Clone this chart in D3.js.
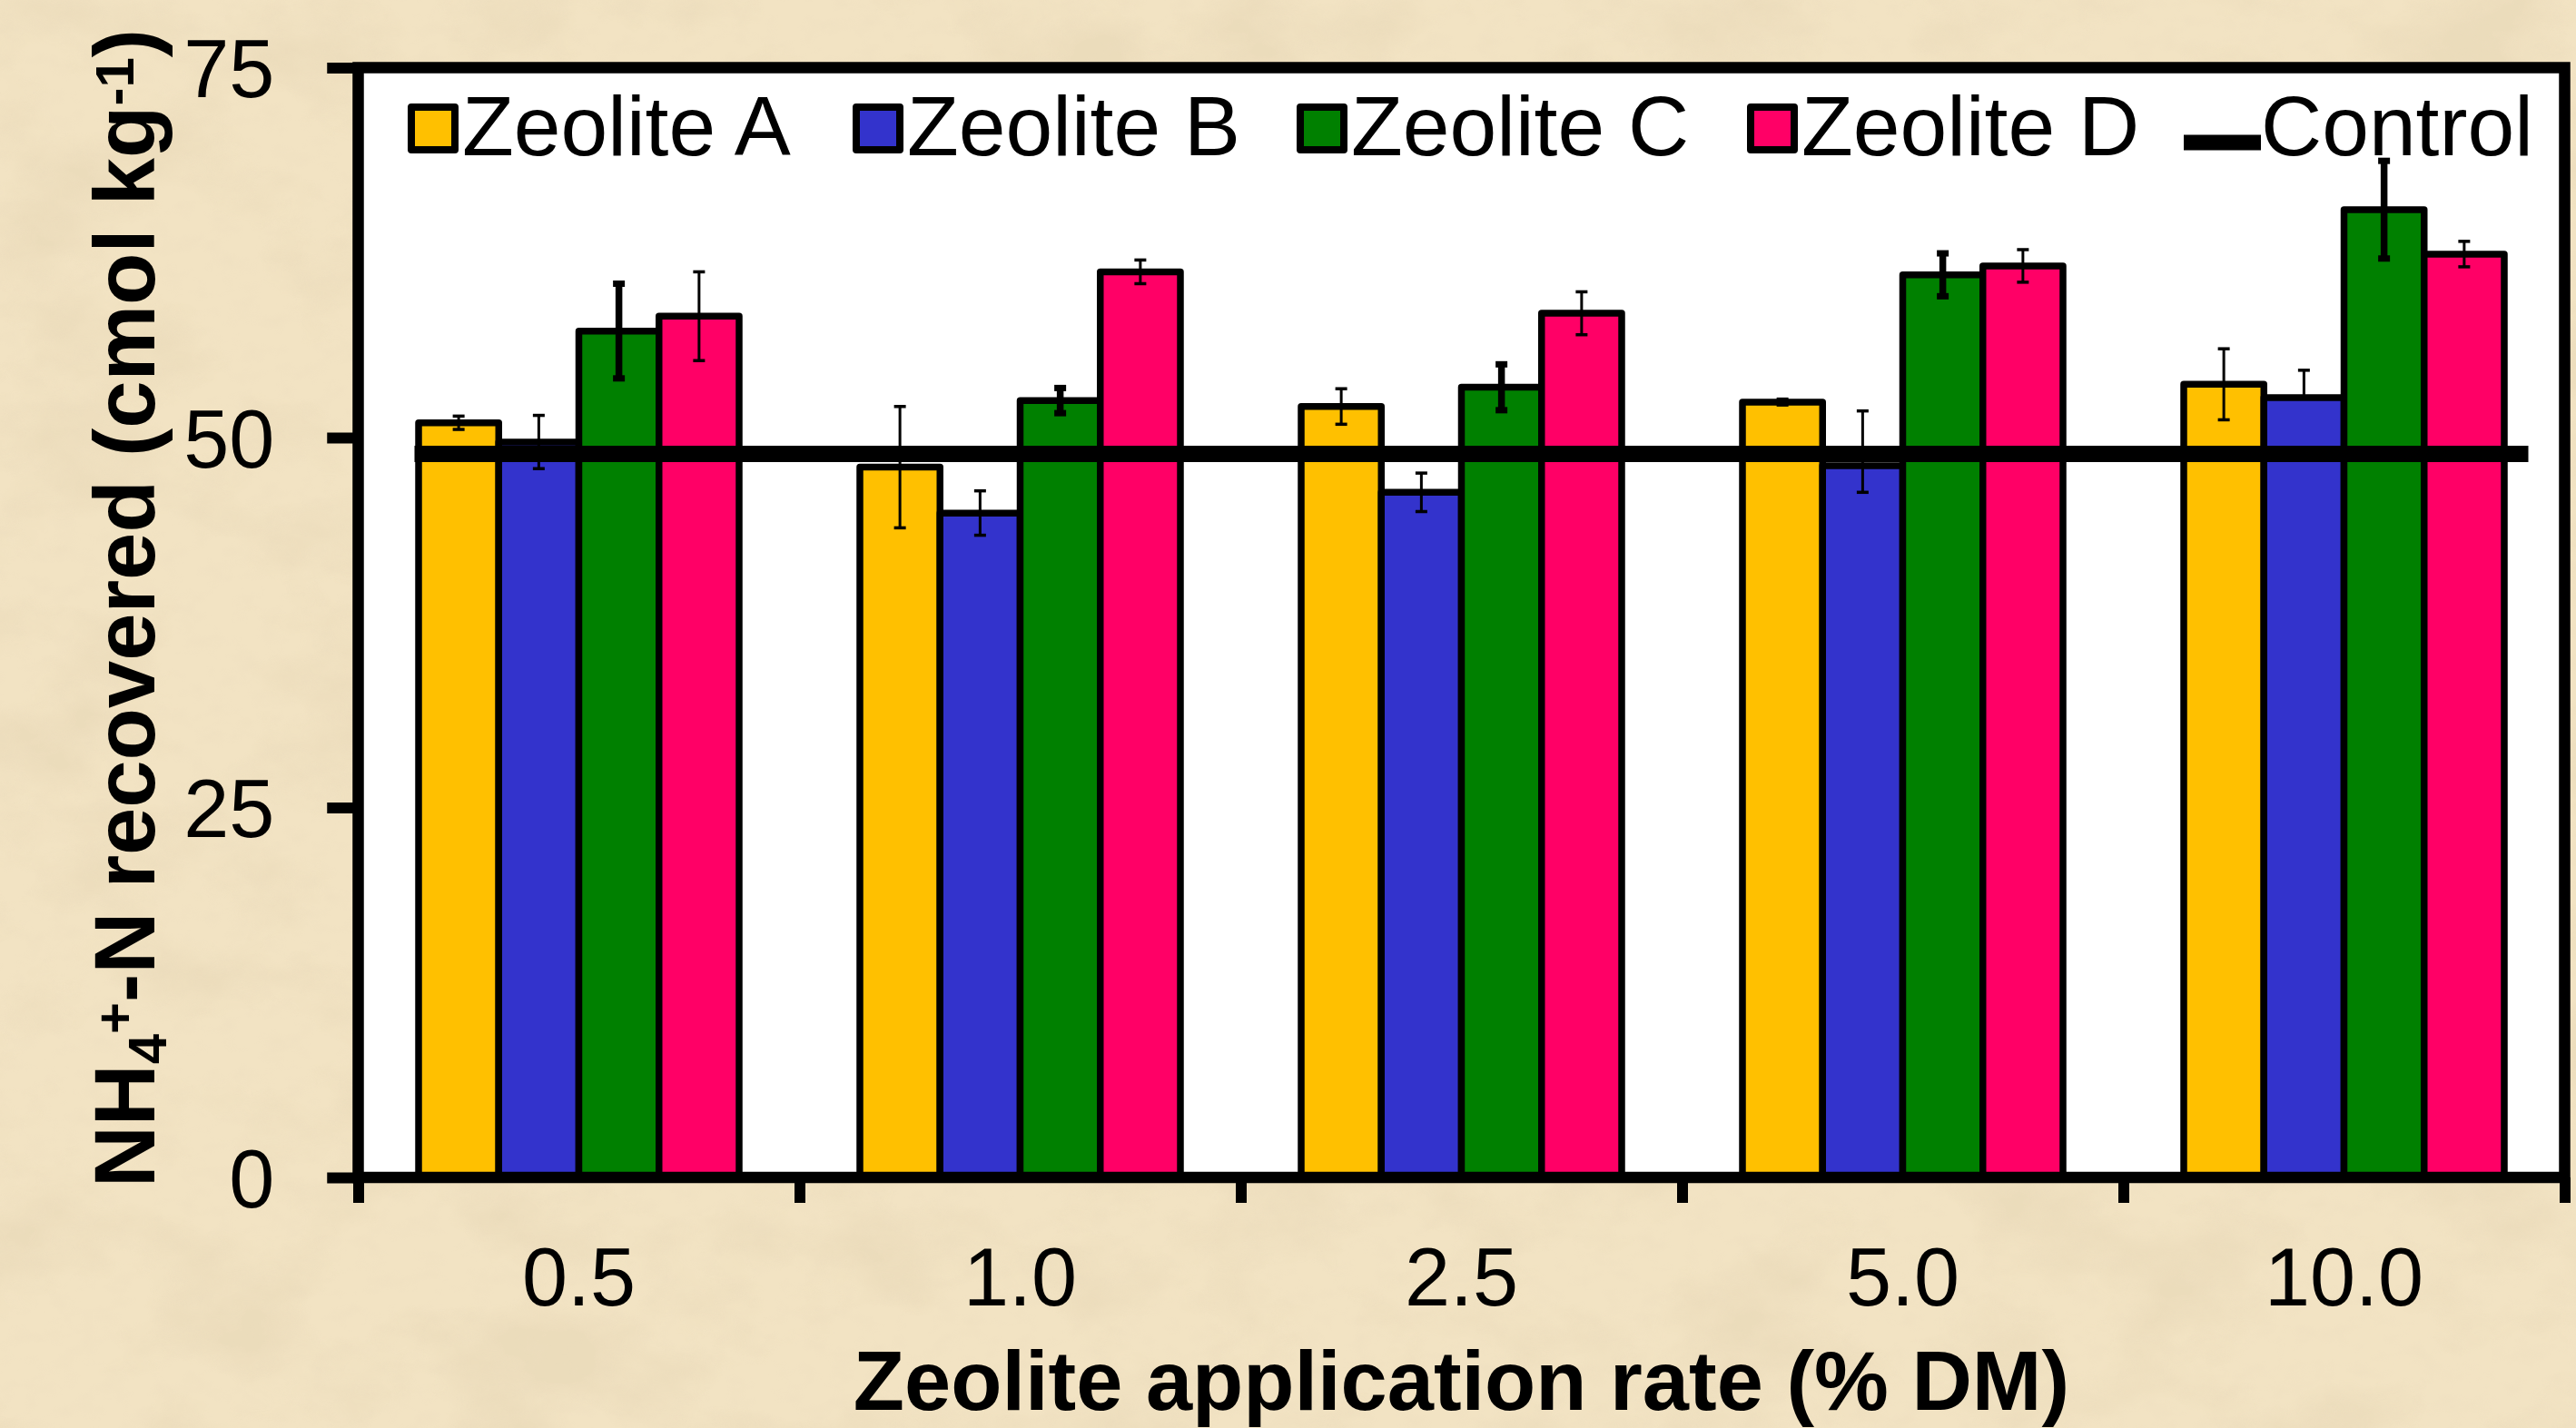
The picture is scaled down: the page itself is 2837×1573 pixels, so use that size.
<!DOCTYPE html>
<html>
<head>
<meta charset="utf-8">
<script src="https://cdn.jsdelivr.net/npm/d3@7"></script>
<style>
    html, body { margin: 0; padding: 0; background: #f0e0bd; }
    svg { display: block; }
    text { font-family: "Liberation Sans", Arial, Helvetica, sans-serif; fill: #000; }
</style>
</head>
<body>
<div id="chart"></div>
<script>
// data
const categories = ["0.5", "1.0", "2.5", "5.0", "10.0"];
const seriesNames = ["Zeolite A", "Zeolite B", "Zeolite C", "Zeolite D"];
const zeoliteA = [51.0, 48.0, 52.1, 52.4, 53.6];
const zeoliteB = [49.7, 44.9, 46.3, 48.1, 52.7];
const zeoliteC = [57.2, 52.5, 53.4, 61.0, 65.4];
const zeoliteD = [58.2, 61.2, 58.4, 61.6, 62.4];
const errUpA = [0.45, 4.1, 1.2, 0.2, 2.4];
const errDownA = [0.45, 4.1, 1.2, 0.2, 2.4];
const errUpB = [1.8, 1.5, 1.3, 3.7, 1.85];
const errDownB = [1.8, 1.5, 1.3, 1.8, 0];
const errUpC = [3.2, 0.85, 1.55, 1.45, 3.3];
const errDownC = [3.2, 0.85, 1.55, 1.45, 3.3];
const errUpD = [3.0, 0.8, 1.45, 1.1, 0.86];
const errDownD = [3.0, 0.8, 1.45, 1.1, 0.86];
const control = 48.9;
const yTicks = [0, 25, 50, 75];

const colors = ["#ffc000", "#3333cc", "#008000", "#ff0066"];
const seriesValues = [zeoliteA, zeoliteB, zeoliteC, zeoliteD];
const seriesErrUp = [errUpA, errUpB, errUpC, errUpD];
const seriesErrDown = [errDownA, errDownB, errDownC, errDownD];

const width = 2837;
const height = 1573;
const plot = { left: 394.5, right: 2824.5, top: 74.5, bottom: 1297 };
const axisWidth = 12.5;
const tickLength = 28;

const svg = d3.select("#chart")
    .append("svg")
    .attr("width", width)
    .attr("height", height);

// parchment background
const defs = svg.append("defs");
const paper = defs.append("filter")
    .attr("id", "paper")
    .attr("filterUnits", "userSpaceOnUse")
    .attr("x", 0).attr("y", 0)
    .attr("width", width).attr("height", height);

paper.append("feTurbulence")
    .attr("type", "fractalNoise")
    .attr("baseFrequency", "0.006 0.009")
    .attr("numOctaves", 5)
    .attr("seed", 7)
    .attr("result", "noise");

paper.append("feColorMatrix")
    .attr("in", "noise")
    .attr("type", "matrix")
    .attr("values", "0 0 0 0 0.80  0 0 0 0 0.68  0 0 0 0 0.47  3.2 0 0 0 -1.45");

const grain = defs.append("filter")
    .attr("id", "grain")
    .attr("filterUnits", "userSpaceOnUse")
    .attr("x", 0).attr("y", 0)
    .attr("width", width).attr("height", height);

grain.append("feTurbulence")
    .attr("type", "fractalNoise")
    .attr("baseFrequency", "0.035 0.05")
    .attr("numOctaves", 3)
    .attr("seed", 2)
    .attr("result", "noise");

grain.append("feColorMatrix")
    .attr("in", "noise")
    .attr("type", "matrix")
    .attr("values", "0 0 0 0 0.84  0 0 0 0 0.72  0 0 0 0 0.52  2.6 0 0 0 -1.2");

svg.append("rect")
    .attr("width", width).attr("height", height)
    .style("fill", "#f2e3c3");

svg.append("rect")
    .attr("width", width).attr("height", height)
    .style("fill", "#000")
    .style("opacity", 0.55)
    .attr("filter", "url(#paper)");

svg.append("rect")
    .attr("width", width).attr("height", height)
    .style("fill", "#000")
    .style("opacity", 0.3)
    .attr("filter", "url(#grain)");

// scales
const x0 = d3.scaleBand()
    .domain(categories)
    .range([plot.left, plot.right])
    .paddingInner(0)
    .paddingOuter(0);

const groupGap = 66.5;
const x1 = d3.scaleBand()
    .domain(seriesNames)
    .range([groupGap, x0.bandwidth() - groupGap]);

const y = d3.scaleLinear()
    .domain([0, 75])
    .range([plot.bottom, plot.top]);

// plot area
svg.append("rect")
    .attr("x", plot.left)
    .attr("y", plot.top)
    .attr("width", plot.right - plot.left)
    .attr("height", plot.bottom - plot.top)
    .style("fill", "#fff");

// bars
const groups = svg.append("g")
    .selectAll("g")
    .data(categories)
    .enter()
    .append("g")
    .attr("transform", d => "translate(" + x0(d) + ",0)");

groups.selectAll("rect")
    .data((d, i) => seriesNames.map((name, s) => ({ name: name, s: s, value: seriesValues[s][i] })))
    .enter()
    .append("rect")
    .attr("x", d => x1(d.name))
    .attr("y", d => y(d.value))
    .attr("width", x1.bandwidth())
    .attr("height", d => y(0) - y(d.value))
    .style("fill", d => colors[d.s])
    .style("stroke", "#000")
    .style("stroke-width", 7.5)
    .style("stroke-linejoin", "round");

// control line
svg.append("line")
    .attr("x1", plot.left + 62)
    .attr("x2", plot.right - 40)
    .attr("y1", y(control))
    .attr("y2", y(control))
    .style("stroke", "#000")
    .style("stroke-width", 18);

// error bars
const errorData = [];
categories.forEach((c, i) => {
    seriesNames.forEach((name, s) => {
        errorData.push({
            cx: x0(c) + x1(name) + x1.bandwidth() / 2,
            value: seriesValues[s][i],
            up: seriesErrUp[s][i],
            down: seriesErrDown[s][i],
            thick: s === 2
        });
    });
});

const errors = svg.append("g")
    .selectAll("g")
    .data(errorData)
    .enter()
    .append("g");

errors.append("line")
    .attr("x1", d => d.cx)
    .attr("x2", d => d.cx)
    .attr("y1", d => y(d.value + d.up))
    .attr("y2", d => y(d.value - d.down))
    .style("stroke", "#000")
    .style("stroke-width", d => d.thick ? 7.5 : 3);

errors.append("line")
    .attr("x1", d => d.cx - 6.5)
    .attr("x2", d => d.cx + 6.5)
    .attr("y1", d => y(d.value + d.up))
    .attr("y2", d => y(d.value + d.up))
    .style("stroke", "#000")
    .style("stroke-width", d => d.thick ? 7 : 3.5);

errors.filter(d => d.down > 0)
    .append("line")
    .attr("x1", d => d.cx - 6.5)
    .attr("x2", d => d.cx + 6.5)
    .attr("y1", d => y(d.value - d.down))
    .attr("y2", d => y(d.value - d.down))
    .style("stroke", "#000")
    .style("stroke-width", d => d.thick ? 7 : 3.5);

// frame
svg.append("rect")
    .attr("x", plot.left)
    .attr("y", plot.top)
    .attr("width", plot.right - plot.left)
    .attr("height", plot.bottom - plot.top)
    .style("fill", "none")
    .style("stroke", "#000")
    .style("stroke-width", axisWidth);

// y axis
const yAxis = svg.append("g")
    .attr("transform", "translate(" + plot.left + ",0)")
    .call(d3.axisLeft(y).tickValues(yTicks).tickSize(tickLength + axisWidth / 2).tickPadding(58));

yAxis.select(".domain").remove();
yAxis.selectAll(".tick line")
    .style("stroke", "#000")
    .style("stroke-width", 12);
yAxis.selectAll(".tick text")
    .attr("dy", "0.36em")
    .style("font-family", "'Liberation Sans', Arial, sans-serif")
    .style("font-size", "90px")
    .style("fill", "#000");

// x axis: ticks at category boundaries, labels at centres
const boundaries = d3.range(categories.length + 1);
const xb = d3.scaleLinear()
    .domain([0, categories.length])
    .range([plot.left, plot.right]);

const xTicks = svg.append("g")
    .attr("transform", "translate(0," + plot.bottom + ")")
    .call(d3.axisBottom(xb).tickValues(boundaries).tickSize(tickLength).tickFormat(""));

xTicks.select(".domain").remove();
xTicks.selectAll(".tick line")
    .style("stroke", "#000")
    .style("stroke-width", 12);

const xLabels = svg.append("g")
    .attr("transform", "translate(0," + plot.bottom + ")")
    .call(d3.axisBottom(x0).tickSize(0));

xLabels.select(".domain").remove();
xLabels.selectAll(".tick text")
    .attr("y", 141)
    .attr("dy", 0)
    .style("font-family", "'Liberation Sans', Arial, sans-serif")
    .style("font-size", "90px")
    .style("fill", "#000");

// axis titles
svg.append("text")
    .attr("x", (plot.left + plot.right) / 2)
    .attr("y", 1553)
    .attr("text-anchor", "middle")
    .style("font-size", "92px")
    .style("font-weight", "bold")
    .text("Zeolite application rate (% DM)");

const yTitle = svg.append("text")
    .attr("transform", "translate(170,670) rotate(-90)")
    .attr("text-anchor", "middle")
    .style("font-size", "94px")
    .style("font-weight", "bold");

yTitle.append("tspan").text("NH");
yTitle.append("tspan").attr("baseline-shift", "-22%").style("font-size", "60px").text("4");
yTitle.append("tspan").attr("baseline-shift", "38%").style("font-size", "60px").text("+");
yTitle.append("tspan").text("-N recovered (cmol kg");
yTitle.append("tspan").attr("baseline-shift", "38%").style("font-size", "60px").text("-1");
yTitle.append("tspan").text(")");

// legend
const legendX = [449, 939, 1428, 1924];
const legendBaseline = 171;
const legend = svg.append("g");

seriesNames.forEach((name, s) => {
    legend.append("rect")
        .attr("x", legendX[s] + 4)
        .attr("y", 118)
        .attr("width", 48)
        .attr("height", 47)
        .style("fill", colors[s])
        .style("stroke", "#000")
        .style("stroke-width", 8)
        .style("stroke-linejoin", "round");

    legend.append("text")
        .attr("x", legendX[s] + 60)
        .attr("y", legendBaseline)
        .style("font-size", "93px")
        .text(name);
});

legend.append("line")
    .attr("x1", 2405)
    .attr("x2", 2490)
    .attr("y1", 157)
    .attr("y2", 157)
    .style("stroke", "#000")
    .style("stroke-width", 17);

legend.append("text")
    .attr("x", 2490)
    .attr("y", legendBaseline)
    .style("font-size", "93px")
    .text("Control");
</script>
</body>
</html>
